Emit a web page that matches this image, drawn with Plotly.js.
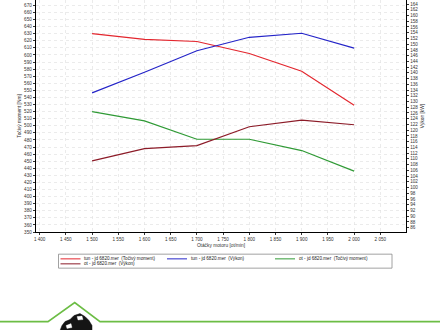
<!DOCTYPE html>
<html>
<head>
<meta charset="utf-8">
<script src="https://cdn.plot.ly/plotly-3.0.1.min.js"></script>
<style>html,body{margin:0;padding:0;background:#fff;}#chart{width:440px;height:330px;}</style>
</head>
<body>
<div id="chart"></div>
<script>
// ---- data ----
const rpm = [1500, 1600, 1700, 1800, 1900, 2000];
const tunTorque = [630, 622, 619, 602, 577, 529];
const tunPower = [133.0, 140.2, 147.7, 152.4, 153.8, 148.6];
const otTorque = [520, 507, 481, 481, 465, 436];
const otPower = [109.3, 113.6, 114.6, 121.2, 123.5, 121.9];
const seriesNames = [
  "tun - jd 6820.mer  (Točivý moment)",
  "tun - jd 6820.mer  (Výkon)",
  "ot - jd 6820.mer  (Točivý moment)",
  "ot - jd 6820.mer  (Výkon)"
];
const xTitle = "Otáčky motoru [ot/min]";
const yTitle = "Točivý moment [Nm]";
const y2Title = "Výkon [kW]";

// ---- style ----
const colors = ["#e3262e", "#2424c8", "#2f9a35", "#8c1b28"];
const FONT = "Liberation Sans, Arial, sans-serif";
const W = 440, H = 330;
const PL = 36, PR = 406, PT = 0, PB = 232.3;
const px = x => (x - PL) / (PR - PL);
const py = y => (PB - y) / (PB - PT);

const traces = [
  {x: rpm, y: tunTorque, yaxis: 'y', name: seriesNames[0]},
  {x: rpm, y: tunPower, yaxis: 'y2', name: seriesNames[1]},
  {x: rpm, y: otTorque, yaxis: 'y', name: seriesNames[2]},
  {x: rpm, y: otPower, yaxis: 'y2', name: seriesNames[3]}
].map((t, i) => Object.assign(t, {
  type: 'scatter', mode: 'lines', showlegend: false,
  line: {color: colors[i], width: 1.2}, hoverinfo: 'skip'
}));

// manual legend
const shapes = [];
const annotations = [];
shapes.push({type: 'rect', xref: 'paper', yref: 'paper',
  x0: px(58.5), x1: px(392), y0: py(254.5), y1: py(268.5),
  line: {color: '#8a8a8a', width: 0.8}, fillcolor: 'rgba(0,0,0,0)'});
const legPos = [[60.5, 259.2], [167, 259.2], [275, 259.2], [60.5, 264.2]];
legPos.forEach((p, i) => {
  shapes.push({type: 'line', xref: 'paper', yref: 'paper',
    x0: px(p[0]), x1: px(p[0] + 20), y0: py(p[1]), y1: py(p[1]),
    line: {color: colors[i], width: 1}});
  annotations.push({xref: 'paper', yref: 'paper', x: px(p[0] + 21.5), y: py(p[1]),
    xanchor: 'left', yanchor: 'middle', showarrow: false, text: seriesNames[i],
    font: {family: FONT, size: 4.6, color: '#222'}});
});

// logo line
shapes.push({type: 'path', xref: 'paper', yref: 'paper',
  path: `M ${px(-2)},${py(322)} L ${px(48)},${py(322)} L ${px(74.7)},${py(303)} L ${px(100)},${py(322)} L ${px(442)},${py(322)}`,
  line: {color: '#6cbd45', width: 1.7}});
// logo icon (approximate silhouette)
shapes.push({type: 'path', xref: 'paper', yref: 'paper',
  path: `M ${px(60)},${py(331)} L ${px(62)},${py(326)} L ${px(65)},${py(322)} L ${px(70)},${py(320)} L ${px(74)},${py(316)} L ${px(80)},${py(314)} L ${px(85)},${py(317)} L ${px(89)},${py(321)} L ${px(92)},${py(326)} L ${px(92)},${py(331)} Z`,
  fillcolor: '#151515', line: {color: '#151515', width: 0.5}});
shapes.push({type: 'path', xref: 'paper', yref: 'paper',
  path: `M ${px(77)},${py(317)} L ${px(82)},${py(316.5)} L ${px(83)},${py(320)} L ${px(78)},${py(320.5)} Z`,
  fillcolor: '#fff', line: {color: '#fff', width: 0.3}});
shapes.push({type: 'path', xref: 'paper', yref: 'paper',
  path: `M ${px(66)},${py(326)} L ${px(71)},${py(324)} L ${px(72)},${py(328)} L ${px(67)},${py(329)} Z`,
  fillcolor: '#fff', line: {color: '#fff', width: 0.3}});

const tickFont = {family: FONT, size: 4.6, color: '#333'};
const gridCol = '#e2e2e2';
const layout = {
  width: W, height: H,
  margin: {l: PL, r: W - PR, t: PT, b: H - PB, pad: 0},
  paper_bgcolor: '#fff', plot_bgcolor: '#fff',
  separators: ', ',
  showlegend: false,
  xaxis: {
    range: [1393, 2099], tick0: 1400, dtick: 50, tickformat: ',d',
    showline: true, linecolor: '#000', linewidth: 1.3,
    ticks: 'outside', ticklen: 2, tickcolor: '#000', tickwidth: 0.8,
    showgrid: true, gridcolor: gridCol, griddash: 'dot', gridwidth: 0.7,
    zeroline: false, tickfont: tickFont,
    title: {text: xTitle, font: {family: FONT, size: 4.8, color: '#333'}, standoff: 2}
  },
  yaxis: {
    range: [350, 677.6], tick0: 350, dtick: 10,
    showline: true, linecolor: '#000', linewidth: 1.3,
    ticks: 'outside', ticklen: 2, tickcolor: '#000', tickwidth: 0.8,
    showgrid: true, gridcolor: gridCol, griddash: 'dot', gridwidth: 0.7,
    zeroline: false, tickfont: tickFont,
    title: {text: yTitle, font: {family: FONT, size: 4.8, color: '#333'}, standoff: 2}
  },
  yaxis2: {
    overlaying: 'y', side: 'right',
    range: [84.5, 165.4], tick0: 86, dtick: 2,
    showline: true, linecolor: '#000', linewidth: 1.3,
    ticks: 'outside', ticklen: 2, tickcolor: '#000', tickwidth: 0.8,
    showgrid: false, zeroline: false, tickfont: tickFont,
    title: {text: y2Title, font: {family: FONT, size: 4.8, color: '#333'}, standoff: 3}
  },
  shapes: shapes,
  annotations: annotations
};

Plotly.newPlot('chart', traces, layout, {displayModeBar: false, staticPlot: true});
</script>
</body>
</html>
